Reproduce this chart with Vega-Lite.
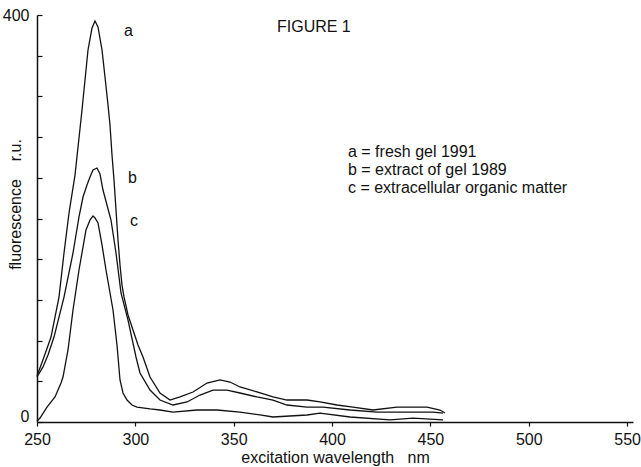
{
  "$schema": "https://vega.github.io/schema/vega-lite/v6.json",
  "width": 596,
  "height": 407,
  "autosize": "none",
  "padding": {"left": 37, "top": 15, "right": 8, "bottom": 45},
  "background": "white",
  "config": {"view": {"stroke": null}, "font": "Liberation Sans"},
  "datasets": {
    "spectra": [
      {"series": "a", "wl": 250, "f": 45.2}, {"series": "a", "wl": 253.56, "f": 63.9}, {"series": "a", "wl": 257.12, "f": 83.5}, {"series": "a", "wl": 261.18, "f": 122.8}, {"series": "a", "wl": 263.73, "f": 166.1}, {"series": "a", "wl": 266.27, "f": 205.4}, {"series": "a", "wl": 269.32, "f": 242.7}, {"series": "a", "wl": 272.88, "f": 306.6}, {"series": "a", "wl": 275.93, "f": 365.6}, {"series": "a", "wl": 277.96, "f": 387.2}, {"series": "a", "wl": 279.49, "f": 394.1}, {"series": "a", "wl": 281.01, "f": 388.2}, {"series": "a", "wl": 283.05, "f": 365.6}, {"series": "a", "wl": 284.57, "f": 339.1}, {"series": "a", "wl": 286.1, "f": 311.5}, {"series": "a", "wl": 287.11, "f": 291.9}, {"series": "a", "wl": 288.13, "f": 262.4}, {"series": "a", "wl": 289.15, "f": 237.8}, {"series": "a", "wl": 290.17, "f": 208.4}, {"series": "a", "wl": 291.18, "f": 178.9}, {"series": "a", "wl": 292.2, "f": 154.3}, {"series": "a", "wl": 293.21, "f": 134.6}, {"series": "a", "wl": 294.23, "f": 122.9}, {"series": "a", "wl": 296.27, "f": 105.2}, {"series": "a", "wl": 298.81, "f": 90.4}, {"series": "a", "wl": 301.35, "f": 75.7}, {"series": "a", "wl": 303.89, "f": 63.9}, {"series": "a", "wl": 307.45, "f": 44.2}, {"series": "a", "wl": 312.53, "f": 28.5}, {"series": "a", "wl": 317.62, "f": 21.6}, {"series": "a", "wl": 322.7, "f": 24.6}, {"series": "a", "wl": 329.31, "f": 29.5}, {"series": "a", "wl": 336.43, "f": 38.3}, {"series": "a", "wl": 343.04, "f": 41.3}, {"series": "a", "wl": 348.12, "f": 39.3}, {"series": "a", "wl": 353.2, "f": 34.4}, {"series": "a", "wl": 361.85, "f": 29.5}, {"series": "a", "wl": 369.98, "f": 24.6}, {"series": "a", "wl": 377.1, "f": 21.6}, {"series": "a", "wl": 387.27, "f": 21.6}, {"series": "a", "wl": 393.88, "f": 19.7}, {"series": "a", "wl": 402.52, "f": 16.7}, {"series": "a", "wl": 410.65, "f": 14.7}, {"series": "a", "wl": 420.82, "f": 11.8}, {"series": "a", "wl": 433.02, "f": 14.7}, {"series": "a", "wl": 448.28, "f": 14.7}, {"series": "a", "wl": 454.89, "f": 11.8}, {"series": "a", "wl": 457.43, "f": 8.8},
      {"series": "b", "wl": 250, "f": 44.2}, {"series": "b", "wl": 253.05, "f": 54.1}, {"series": "b", "wl": 255.59, "f": 65.8}, {"series": "b", "wl": 258.64, "f": 83.5}, {"series": "b", "wl": 263.73, "f": 122.8}, {"series": "b", "wl": 268.3, "f": 166.1}, {"series": "b", "wl": 271.35, "f": 201.5}, {"series": "b", "wl": 273.38, "f": 221.1}, {"series": "b", "wl": 275.42, "f": 232.9}, {"series": "b", "wl": 276.94, "f": 240.8}, {"series": "b", "wl": 278.47, "f": 247.7}, {"series": "b", "wl": 280.5, "f": 249.6}, {"series": "b", "wl": 282.03, "f": 243.7}, {"series": "b", "wl": 283.55, "f": 228.0}, {"series": "b", "wl": 287.62, "f": 198.5}, {"series": "b", "wl": 290.17, "f": 166.1}, {"series": "b", "wl": 292.71, "f": 126.8}, {"series": "b", "wl": 296.27, "f": 100.2}, {"series": "b", "wl": 300.33, "f": 63.9}, {"series": "b", "wl": 302.36, "f": 48.2}, {"series": "b", "wl": 307.45, "f": 31.4}, {"series": "b", "wl": 312.53, "f": 21.6}, {"series": "b", "wl": 319.14, "f": 16.7}, {"series": "b", "wl": 326.26, "f": 19.7}, {"series": "b", "wl": 332.87, "f": 26.5}, {"series": "b", "wl": 339.48, "f": 31.4}, {"series": "b", "wl": 346.6, "f": 31.4}, {"series": "b", "wl": 353.2, "f": 28.5}, {"series": "b", "wl": 361.85, "f": 24.6}, {"series": "b", "wl": 369.98, "f": 21.6}, {"series": "b", "wl": 377.1, "f": 16.7}, {"series": "b", "wl": 387.27, "f": 14.7}, {"series": "b", "wl": 395.4, "f": 14.7}, {"series": "b", "wl": 409.13, "f": 11.8}, {"series": "b", "wl": 422.85, "f": 9.8}, {"series": "b", "wl": 434.55, "f": 9.8}, {"series": "b", "wl": 451.33, "f": 9.8}, {"series": "b", "wl": 456.42, "f": 8.8},
      {"series": "c", "wl": 250, "f": 1.0}, {"series": "c", "wl": 251.53, "f": 3.9}, {"series": "c", "wl": 255.08, "f": 14.7}, {"series": "c", "wl": 259.15, "f": 24.6}, {"series": "c", "wl": 262.2, "f": 38.3}, {"series": "c", "wl": 263.22, "f": 44.2}, {"series": "c", "wl": 265.76, "f": 70.8}, {"series": "c", "wl": 268.3, "f": 110.1}, {"series": "c", "wl": 271.35, "f": 149.4}, {"series": "c", "wl": 274.91, "f": 188.7}, {"series": "c", "wl": 276.94, "f": 198.5}, {"series": "c", "wl": 278.47, "f": 202.5}, {"series": "c", "wl": 279.49, "f": 200.5}, {"series": "c", "wl": 281.01, "f": 195.6}, {"series": "c", "wl": 283.05, "f": 174.0}, {"series": "c", "wl": 285.08, "f": 149.4}, {"series": "c", "wl": 288.64, "f": 110.1}, {"series": "c", "wl": 290.67, "f": 75.7}, {"series": "c", "wl": 292.2, "f": 41.3}, {"series": "c", "wl": 293.72, "f": 28.5}, {"series": "c", "wl": 295.76, "f": 21.6}, {"series": "c", "wl": 298.3, "f": 16.7}, {"series": "c", "wl": 300.84, "f": 14.7}, {"series": "c", "wl": 307.45, "f": 12.8}, {"series": "c", "wl": 312.53, "f": 11.8}, {"series": "c", "wl": 319.14, "f": 9.8}, {"series": "c", "wl": 331.34, "f": 11.8}, {"series": "c", "wl": 341.51, "f": 11.8}, {"series": "c", "wl": 353.2, "f": 9.8}, {"series": "c", "wl": 363.37, "f": 6.9}, {"series": "c", "wl": 369.98, "f": 4.9}, {"series": "c", "wl": 387.27, "f": 6.9}, {"series": "c", "wl": 393.88, "f": 8.8}, {"series": "c", "wl": 409.13, "f": 4.9}, {"series": "c", "wl": 429.46, "f": 2.0}, {"series": "c", "wl": 441.16, "f": 3.9}, {"series": "c", "wl": 456.42, "f": 2.0}
    ],
    "notes": [
      {"wl": 294.2, "f": 379.4, "t": "a"},
      {"wl": 296.3, "f": 234.9, "t": "b"},
      {"wl": 297.3, "f": 192.6, "t": "c"},
      {"wl": 408.1, "f": 260.4, "t": "a = fresh gel 1991"},
      {"wl": 408.1, "f": 242.8, "t": "b = extract of gel 1989"},
      {"wl": 408.1, "f": 225.1, "t": "c = extracellular organic matter"},
      {"wl": 372.0, "f": 383.3, "t": "FIGURE 1"}
    ]
  },
  "layer": [
    {
      "data": {"name": "spectra"},
      "mark": {"type": "line", "color": "#111", "strokeWidth": 1.3},
      "encoding": {
        "x": {
          "field": "wl", "type": "quantitative",
          "scale": {"domain": [250, 553], "nice": false, "zero": false},
          "axis": {
            "values": [250, 300, 350, 400, 450, 500, 550],
            "title": "excitation wavelength\u00a0\u00a0\u00a0nm",
            "grid": false, "domainColor": "#111", "domainWidth": 1.5,
            "tickColor": "#111", "tickSize": 4, "tickWidth": 1.2,
            "labelFlush": false,
            "labelFont": "Liberation Sans", "labelFontSize": 16, "labelColor": "#111", "labelPadding": 5,
            "titleFont": "Liberation Sans", "titleFontSize": 16, "titleFontWeight": "normal", "titleColor": "#111", "titlePadding": 2
          }
        },
        "y": {
          "field": "f", "type": "quantitative",
          "scale": {"domain": [0, 400], "nice": false},
          "axis": {
            "values": [0, 40, 80, 120, 160, 200, 240, 280, 320, 360, 400],
            "labelExpr": "datum.value == 0 || datum.value == 400 ? datum.label : ''",
            "labelOffset": {"condition": {"test": "datum.value == 0", "value": -6}, "value": 0},
            "title": "fluorescence\u00a0\u00a0\u00a0\u00a0r.u.",
            "grid": false, "domainColor": "#111", "domainWidth": 1.5,
            "tickColor": "#111", "tickSize": -5, "tickWidth": 1.2,
            "labelFlush": false,
            "labelFont": "Liberation Sans", "labelFontSize": 16, "labelColor": "#111", "labelPadding": 13,
            "titleFont": "Liberation Sans", "titleFontSize": 16, "titleFontWeight": "normal", "titleColor": "#111",
            "titleX": -17, "titleY": 189, "titleBaseline": "alphabetic", "titleAlign": "center"
          }
        },
        "detail": {"field": "series"}
      }
    },
    {
      "data": {"name": "notes"},
      "mark": {"type": "text", "align": "left", "baseline": "alphabetic", "font": "Liberation Sans", "fontSize": 16, "color": "#111"},
      "encoding": {
        "x": {"field": "wl", "type": "quantitative"},
        "y": {"field": "f", "type": "quantitative"},
        "text": {"field": "t"}
      }
    }
  ]
}
